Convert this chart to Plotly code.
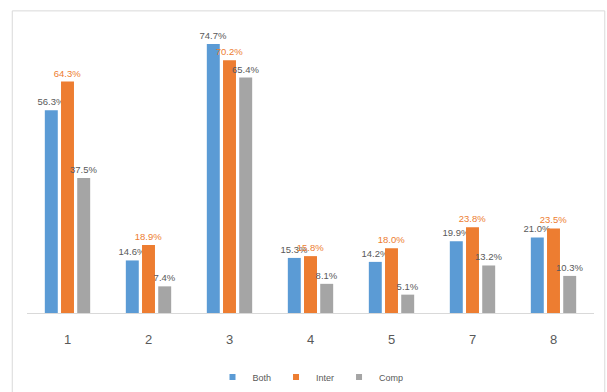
import plotly.graph_objects as go

categories = ["1", "2", "3", "4", "5", "7", "8"]
both = [56.3, 14.6, 74.7, 15.3, 14.2, 19.9, 21.0]
inter = [64.3, 18.9, 70.2, 15.8, 18.0, 23.8, 23.5]
comp = [37.5, 7.4, 65.4, 8.1, 5.1, 13.2, 10.3]

series = [
    ("Both", both, "#5B9BD5", "#595959"),
    ("Inter", inter, "#ED7D31", "#ED7D31"),
    ("Comp", comp, "#A5A5A5", "#595959"),
]

fig = go.Figure()
for name, vals, col, tcol in series:
    fig.add_trace(go.Bar(
        x=categories, y=vals, name=name, showlegend=False,
        marker=dict(color=col, line=dict(width=0)),
        text=[f"{v:.1f}%" for v in vals],
        textposition="outside",
        constraintext="none",
        textfont=dict(family="Liberation Sans, Arial", size=9.5, color=tcol),
        cliponaxis=False,
    ))
# small square legend keys
for name, vals, col, tcol in series:
    fig.add_trace(go.Scatter(
        x=[None], y=[None], mode="markers", name=name,
        marker=dict(symbol="square", size=6, color=col),
    ))

fig.update_layout(
    width=607, height=392,
    margin=dict(l=27, r=13, t=25, b=79, autoexpand=False),
    paper_bgcolor="white", plot_bgcolor="white",
    barmode="group", bargap=0.4, bargroupgap=0.2,
    showlegend=True,
    legend=dict(orientation="h", x=0.5, xanchor="center",
                yref="container", y=0.038, yanchor="middle",
                font=dict(family="Liberation Sans, Arial", size=9, color="#595959"),
                itemwidth=30, tracegroupgap=0, traceorder="normal"),
    xaxis=dict(type="category", showline=True, linecolor="#D9D9D9", linewidth=1,
               ticks="", showgrid=False, ticklabelstandoff=14,
               tickfont=dict(family="Liberation Sans, Arial", size=13, color="#595959")),
    yaxis=dict(range=[0, 80], visible=False, showgrid=False, zeroline=False),
    shapes=[dict(type="rect", xref="paper", yref="paper",
                 x0=-0.026, x1=1.019, y0=-0.29, y1=1.049,
                 line=dict(color="#D9D9D9", width=1), layer="below")],
)

fig.write_html("out.html")
